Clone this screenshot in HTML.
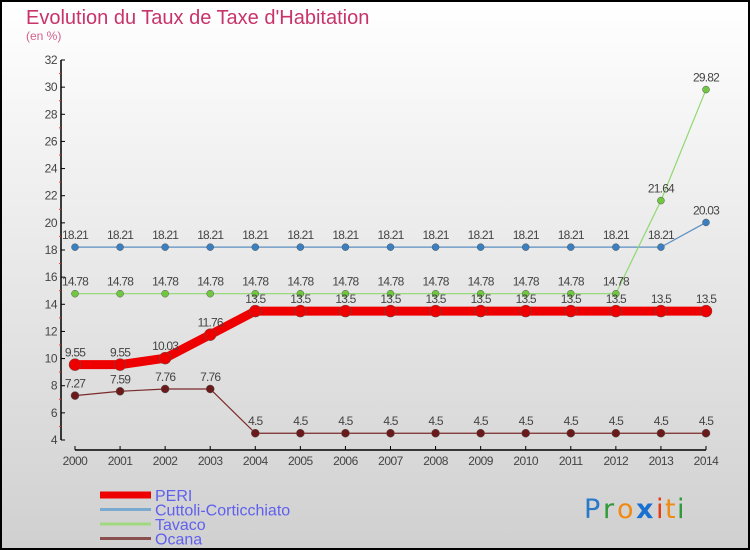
<!DOCTYPE html>
<html><head><meta charset="utf-8"><style>
html,body{margin:0;padding:0}
body{width:750px;height:550px;overflow:hidden;font-family:"Liberation Sans",sans-serif}
svg{display:block}
</style></head><body>
<svg id="chart" width="750" height="550" xmlns="http://www.w3.org/2000/svg">
<defs><linearGradient id="bg" x1="0" y1="0" x2="0" y2="1"><stop offset="0" stop-color="#ffffff"/><stop offset="1" stop-color="#d0d0d0"/></linearGradient></defs>
<rect x="1" y="1" width="748" height="548" fill="url(#bg)" stroke="#000" stroke-width="2"/>
<text x="26" y="24" font-size="20" fill="#c8336a">Evolution du Taux de Taxe d'Habitation</text>
<text x="26" y="40" font-size="12" fill="#d0608a">(en %)</text>
<g id="axes"></g>
<g id="series"></g>
<g id="legend"></g>
<g font-size="27" font-family="'DejaVu Sans',sans-serif">
<text x="584" y="518" fill="#2a78c8">P</text><text x="603" y="518" fill="#2e9a3a">r</text><text x="617" y="518" fill="#f08a10">o</text><text x="636" y="518" fill="#1a70d0" font-weight="bold">x</text><text x="656" y="518" fill="#e83a10">i</text><text x="665" y="518" fill="#f08a10">t</text><text x="677" y="518" fill="#2e9a3a">i</text>
</g>
</svg>
<script>
const years=[2000,2001,2002,2003,2004,2005,2006,2007,2008,2009,2010,2011,2012,2013,2014];
const yTicks=[4,6,8,10,12,14,16,18,20,22,24,26,28,30,32];
const peri=[9.55,9.55,10.03,11.76,13.5,13.5,13.5,13.5,13.5,13.5,13.5,13.5,13.5,13.5,13.5];
const cuttoli=[18.21,18.21,18.21,18.21,18.21,18.21,18.21,18.21,18.21,18.21,18.21,18.21,18.21,18.21,20.03];
const tavaco=[14.78,14.78,14.78,14.78,14.78,14.78,14.78,14.78,14.78,14.78,14.78,14.78,14.78,21.64,29.82];
const ocana=[7.27,7.59,7.76,7.76,4.5,4.5,4.5,4.5,4.5,4.5,4.5,4.5,4.5,4.5,4.5];
const NS="http://www.w3.org/2000/svg";
const X=i=>75+i*(706-75)/(years.length-1);
const Y=v=>440-(v-4)*(380/28);
function mk(tag,attrs,parent){const e=document.createElementNS(NS,tag);for(const k in attrs)e.setAttribute(k,attrs[k]);parent.appendChild(e);return e;}
const axes=document.getElementById('axes');
const yAxis=mk('line',{x1:61,y1:Y(32),x2:61,y2:Y(4),stroke:'#000','stroke-width':1.5},axes);


yTicks.forEach((t,i)=>{
 mk('line',{x1:61,y1:Y(t),x2:65,y2:Y(t),stroke:'#000'},axes);
 if(i<yTicks.length-1) mk('line',{x1:59,y1:Y(t+1),x2:61,y2:Y(t+1),stroke:'#e33'},axes);
 const tx=mk('text',{x:57,y:Y(t)+4,'font-size':12,fill:'#444','text-anchor':'end','letter-spacing':'-0.5'},axes);
 tx.textContent=t;
 
 
});
const xAxis=mk('line',{x1:X(0),y1:450,x2:X(years.length-1),y2:450,stroke:'#000','stroke-width':1.5},axes);


years.forEach((yr,i)=>{
 mk('line',{x1:X(i),y1:446,x2:X(i),y2:450,stroke:'#000'},axes);
 const tx=mk('text',{x:X(i),y:465,'font-size':12,fill:'#444','text-anchor':'middle','letter-spacing':'-0.5'},axes);
 tx.textContent=yr;
 
 
});
const sg=document.getElementById('series');
function drawSeries(vals,name,color,dot,w,r){
 const g=mk('g',{},sg);
 
 
 const p=mk('polyline',{points:vals.map((v,i)=>X(i)+','+Y(v)).join(' '),fill:'none',stroke:color,'stroke-width':w,'stroke-linejoin':'round'},g);
 
 
 vals.forEach((v,i)=>{
  const c=mk('circle',{cx:X(i),cy:Y(v),r:r,fill:dot,stroke:'#555','stroke-width':0.5},g);
  
  
  const t=mk('text',{x:X(i),y:Y(v)-8,'font-size':12,fill:'#444','text-anchor':'middle','letter-spacing':'-0.8'},g);
  t.textContent=String(v);
  
  
 });
}
drawSeries(cuttoli,'cuttoli','#5a8fc0','#3a80c0',1.2,3.5);
drawSeries(tavaco,'tavaco','#90d870','#70c840',1.2,3.5);
drawSeries(ocana,'ocana','#7a2a2a','#6a1a1a',1.2,4);
drawSeries(peri,'peri','#ee0000','#ee0000',9,6);
const lg=document.getElementById('legend');
const items=[['PERI','#ee0000',7],['Cuttoli-Corticchiato','#7aaad0',3],['Tavaco','#a0d880',3],['Ocana','#8a5050',3]];
items.forEach((it,i)=>{
 const y=495+i*14.5;
 const g=mk('g',{},lg);
 
 
 mk('line',{x1:100,y1:y,x2:151,y2:y,stroke:it[1],'stroke-width':it[2]},g);
 const t=mk('text',{x:155,y:y+6,'font-size':16,fill:'#6060ee'},g);
 t.textContent=it[0];
 
 
});
</script>
</body></html>
